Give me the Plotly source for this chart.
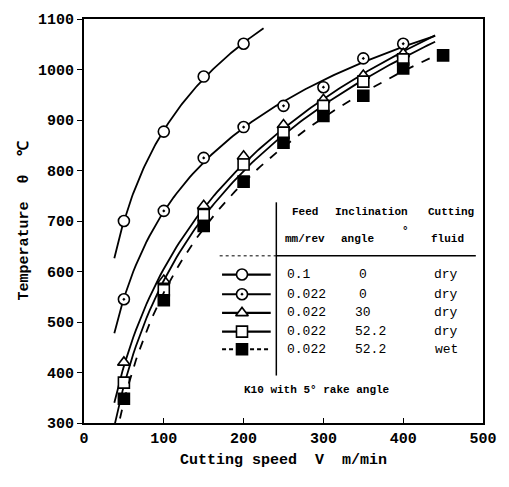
import numpy as np
import plotly.graph_objects as go

# ---- data ----
s1_v = [50, 100, 150, 200]
s1_t = [700, 877, 986, 1051]
s2_v = [50, 100, 150, 200, 250, 300, 350, 400]
s2_t = [545, 720, 825, 886, 928, 965, 1022, 1051]
s3_v = [50, 100, 150, 200, 250, 300, 350, 400]
s3_t = [420, 582, 730, 828, 890, 940, 988, 1031]
s4_v = [50, 100, 150, 200, 250, 300, 350, 400]
s4_t = [380, 563, 712, 812, 875, 928, 976, 1020]
s5_v = [50, 100, 150, 200, 250, 300, 350, 400, 450]
s5_t = [348, 543, 690, 778, 855, 908, 948, 1002, 1028]

line_ranges = [(38, 225), (38, 440), (38, 440), (38, 440), (40, 462)]

feeds = ["0.1", "0.022", "0.022", "0.022", "0.022"]
angles = ["0", "0", "30", "52.2", "52.2"]
fluids = ["dry", "dry", "dry", "dry", "wet"]

x_ticks = [0, 100, 200, 300, 400, 500]
y_ticks = [300, 400, 500, 600, 700, 800, 900, 1000, 1100]

FONT = "Liberation Mono"
series = [
    (s1_v, s1_t, "circle", "white", "solid"),
    (s2_v, s2_t, "circle-dot", "white", "solid"),
    (s3_v, s3_t, "triangle-up", "white", "solid"),
    (s4_v, s4_t, "square", "white", "solid"),
    (s5_v, s5_t, "square", "black", "dash"),
]


def marker_style(sym, fill):
    return dict(symbol=sym, size=11, color=fill,
                line=dict(color="black", width=1.6))


fig = go.Figure()
for (v, t, sym, fill, dash), (lo, hi) in zip(series, line_ranges):
    lv = np.log(np.array(v, float))
    c = np.polyfit(lv, np.array(t, float), 2)
    xs = np.linspace(lo, hi, 120)
    ys = np.polyval(c, np.log(xs))
    fig.add_trace(go.Scatter(x=xs, y=ys, mode="lines",
                             line=dict(color="black", width=1.8, dash=dash),
                             showlegend=False, hoverinfo="skip"))
    fig.add_trace(go.Scatter(x=v, y=t, mode="markers", marker=marker_style(sym, fill),
                             showlegend=False))

# ---- legend table (in data coordinates) ----
row_y = [594, 555, 518, 481, 446]
for (v, t, sym, fill, dash), ry, fd, an, fl in zip(series, row_y, feeds, angles, fluids):
    fig.add_trace(go.Scatter(x=[173, 234], y=[ry, ry], mode="lines",
                             line=dict(color="black", width=2.2, dash="4px,3px" if dash == "dash" else "solid"),
                             showlegend=False, hoverinfo="skip"))
    fig.add_trace(go.Scatter(x=[198], y=[ry], mode="markers", marker=marker_style(sym, fill),
                             showlegend=False, hoverinfo="skip"))
    fig.add_annotation(x=252, y=ry, text=fd, xanchor="left", showarrow=False,
                       font=dict(family=FONT, size=13, color="black"))
    fig.add_annotation(x=350 if an == "0" else 337, y=ry, text=an,
                       xanchor="center" if an == "0" else "left", showarrow=False,
                       font=dict(family=FONT, size=13, color="black"))
    fig.add_annotation(x=454, y=ry, text=fl, xanchor="center", showarrow=False,
                       font=dict(family=FONT, size=13, color="black"))

hdr = dict(showarrow=False, font=dict(family=FONT, size=11, color="black"))
fig.add_annotation(x=277, y=718, text="<b>Feed</b>", **hdr)
fig.add_annotation(x=277, y=665, text="<b>mm/rev</b>", **hdr)
fig.add_annotation(x=360, y=718, text="<b>Inclination</b>", **hdr)
fig.add_annotation(x=343, y=665, text="<b>angle</b>", **hdr)
fig.add_annotation(x=403, y=680, text="<b>°</b>", **hdr)
fig.add_annotation(x=460, y=718, text="<b>Cutting</b>", **hdr)
fig.add_annotation(x=456, y=665, text="<b>fluid</b>", **hdr)
fig.add_annotation(x=292, y=365, text="<b>K10 with 5° rake angle</b>", **hdr)

fig.add_shape(type="line", x0=241, x1=241, y0=737, y1=394, line=dict(color="black", width=1.5))
fig.add_shape(type="line", x0=241, x1=491, y0=631, y1=631, line=dict(color="black", width=1.5))
fig.add_shape(type="line", x0=170, x1=241, y0=631, y1=631, line=dict(color="black", width=1, dash="dot"))

fig.update_layout(
    width=509, height=487,
    margin=dict(l=84, r=12, t=15, b=64),
    plot_bgcolor="white", paper_bgcolor="white",
    font=dict(family=FONT, size=15, color="black"),
)
fig.update_xaxes(range=[0, 500], tickvals=x_ticks, ticktext=[f"<b>{t}</b>" for t in x_ticks],
                 ticks="inside", ticklen=5, tickcolor="black", showgrid=False, zeroline=False,
                 showline=True, linecolor="black", linewidth=2, mirror=True,
                 tickfont=dict(family=FONT, size=15),
                 title=dict(text="<b>Cutting speed  V  m/min</b>", font=dict(family=FONT, size=15), standoff=6))
fig.update_yaxes(range=[300, 1100], tickvals=y_ticks, ticktext=[f"<b>{t}</b>" for t in y_ticks],
                 ticks="outside", ticklen=5, tickcolor="black", showgrid=False, zeroline=False,
                 showline=True, linecolor="black", linewidth=2, mirror=True,
                 tickfont=dict(family=FONT, size=15),
                 title=dict(text="<b>Temperature  θ  ℃</b>", font=dict(family=FONT, size=15), standoff=6))

fig.write_html("out.html")
